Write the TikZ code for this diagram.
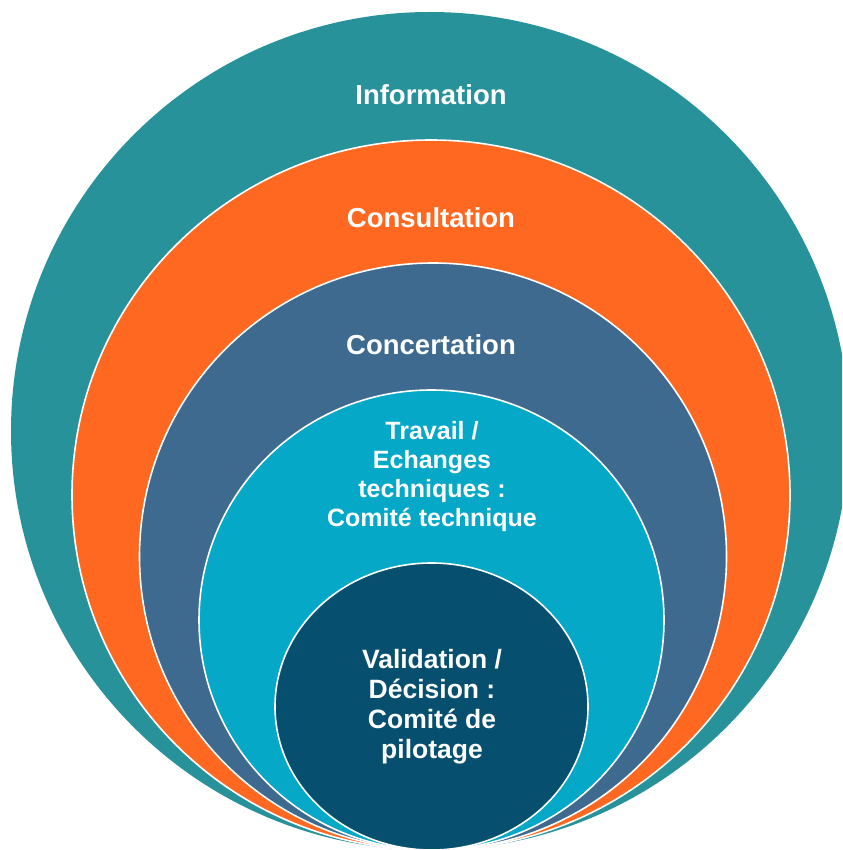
\documentclass[tikz,border=0pt]{standalone}
\usepackage{fontspec}
\setmainfont{Liberation Sans}
\definecolor{cTeal}{HTML}{28929B}
\definecolor{cOrange}{HTML}{FE6820}
\definecolor{cSlate}{HTML}{3E6A8F}
\definecolor{cLight}{HTML}{05A8C6}
\definecolor{cDark}{HTML}{064F6E}
\tikzset{
  ring/.style={draw=white, line width=1.6pt},
  lab/.style={text=white, font=\fontsize{27.5}{29}\selectfont\bfseries, align=center, inner sep=0pt},
  sublab/.style={text=white, font=\fontsize{25}{29}\selectfont\bfseries, align=center, inner sep=0pt},
  innerlab/.style={text=white, font=\fontsize{26.5}{30}\selectfont\bfseries, align=center, inner sep=0pt}
}
\begin{document}
\begin{tikzpicture}[x=1pt,y=-1pt]
\useasboundingbox (0,0) rectangle (842,850);
\begin{scope}
\clip (0,0) rectangle (842,850);
\fill[cTeal] (430,431) ellipse [x radius=419, y radius=419];
\filldraw[ring, fill=cOrange] (431,495) ellipse [x radius=359, y radius=355];
\filldraw[ring, fill=cSlate] (433,556.5) ellipse [x radius=293.5, y radius=293.5];
\filldraw[ring, fill=cLight] (431.5,620) ellipse [x radius=232.5, y radius=230];
\filldraw[ring, fill=cDark] (431.5,706.5) ellipse [x radius=156.5, y radius=143.5];
\end{scope}
\node[lab] (info) at (431,95) {Information};
\node[lab] (consu) at (431,218) {Consultation};
\node[lab] (conce) at (431,345) {Concertation};
\node[sublab] (trav) at (432,477) {Travail /\\Echanges\\techniques :\\Comité technique};
\node[innerlab] (valid) at (432,707) {Validation /\\Décision :\\Comité de\\pilotage};
\end{tikzpicture}
\end{document}
